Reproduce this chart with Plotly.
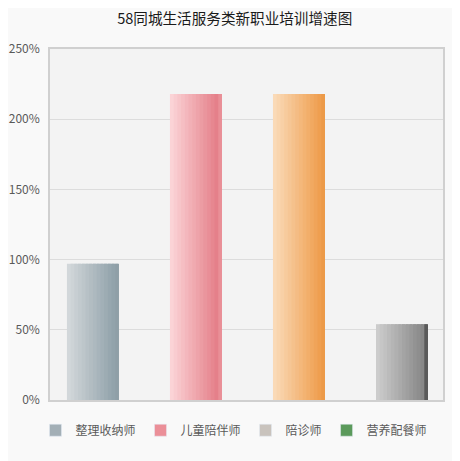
import plotly.graph_objects as go

title = "58同城生活服务类新职业培训增速图"
categories = ["整理收纳师", "儿童陪伴师", "陪诊师", "营养配餐师"]
growth_pct = [97, 218, 218, 54]
tick_vals = [0, 50, 100, 150, 200, 250]
tick_text = ["0%", "50%", "100%", "150%", "200%", "250%"]
grad_left = ["#d2d7da", "#fbd3d6", "#fadab7", "#cccccc"]
grad_right = ["#92a3ab", "#e5808a", "#ef9f50", "#888888"]
edge_colors = ["#8f9fa7", "#e98f97", "#ec9a48", "#5a5a5a"]
legend_colors = ["#a3afb6", "#eb8f98", "#c9c3bd", "#5b9a5b"]

BAR_W = 0.505
N_SLICES = 14


def hex2rgb(h):
    h = h.lstrip("#")
    return [int(h[i:i + 2], 16) for i in (0, 2, 4)]


def mix(a, b, t):
    ra, rb = hex2rgb(a), hex2rgb(b)
    return "rgb(%d,%d,%d)" % tuple(round(ra[k] + (rb[k] - ra[k]) * t) for k in range(3))


fig = go.Figure()
for i, (c, v) in enumerate(zip(categories, growth_pct)):
    sw = BAR_W / N_SLICES
    for j in range(N_SLICES):
        last = j == N_SLICES - 1
        if last:
            col = edge_colors[i]
        else:
            col = mix(grad_left[i], grad_right[i], j / (N_SLICES - 2))
        fig.add_trace(go.Bar(
            x=[c], y=[v], width=sw if last else sw * 1.8,
            offset=-BAR_W / 2 + j * sw,
            marker=dict(color=col, line=dict(width=0)),
            showlegend=False, hoverinfo="skip",
        ))
for i, c in enumerate(categories):
    fig.add_trace(go.Bar(
        x=[c], y=[None], name=c,
        marker=dict(color=legend_colors[i]),
        showlegend=True,
    ))

fig.update_layout(
    width=452, height=453,
    margin=dict(l=42, r=17, t=41, b=61, autoexpand=False),
    barmode="overlay",
    paper_bgcolor="#f9f9f9",
    plot_bgcolor="#f3f3f3",
    font=dict(family="Noto Sans CJK SC, sans-serif", color="#595959", size=12),
    title=dict(text=title, xref="paper", x=0.47, xanchor="center",
               yref="container", y=0.976, yanchor="middle",
               font=dict(size=14.6, color="#1a1a1a")),
    showlegend=True,
    legend=dict(orientation="h", xref="container", x=0.5, xanchor="center",
                yref="container", y=0.068, yanchor="middle",
                font=dict(size=12, color="#595959"), itemwidth=30,
                traceorder="normal", bgcolor="rgba(0,0,0,0)"),
    xaxis=dict(
        type="category", categoryorder="array", categoryarray=categories,
        range=[-0.417, 3.398], showticklabels=False, ticks="",
        showgrid=False, showline=True, linecolor="#d0d0d0", linewidth=1.5,
        mirror=True, zeroline=False, fixedrange=True,
    ),
    yaxis=dict(
        range=[0, 250], tickvals=tick_vals, ticktext=tick_text,
        showgrid=True, gridcolor="#dcdcdc", gridwidth=1,
        showline=True, linecolor="#d0d0d0", linewidth=1.5, mirror=True,
        zeroline=False, ticks="", ticklabelstandoff=6,
        tickfont=dict(size=12, color="#595959"),
    ),
)

fig.write_html("out.html")
